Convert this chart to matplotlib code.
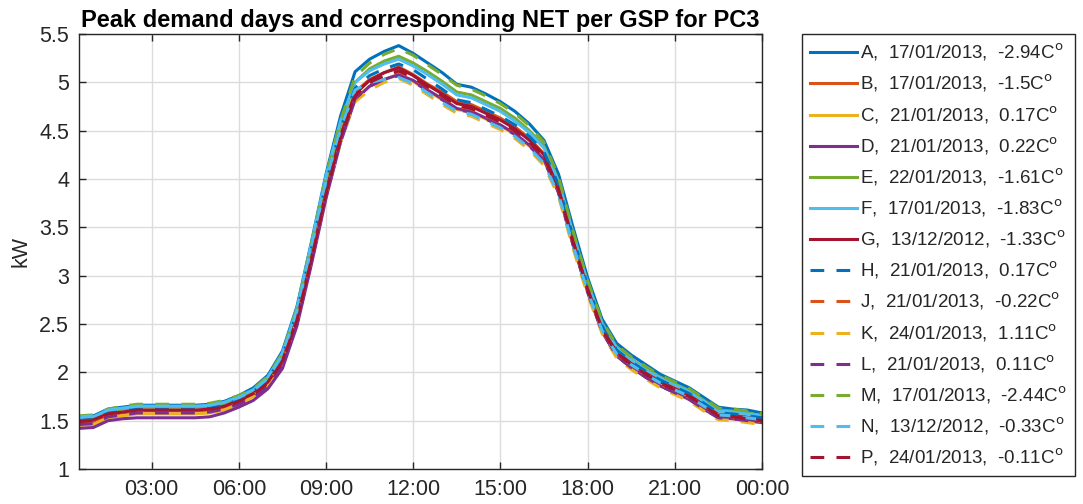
import matplotlib.pyplot as plt
import numpy as np

plt.rcParams['font.family'] = ['Liberation Sans', 'DejaVu Sans']

# half-hourly readings, 00:30 .. 24:00
hours = np.arange(1, 49) * 0.5

labels = ['A', 'B', 'C', 'D', 'E', 'F', 'G', 'H', 'J', 'K', 'L', 'M', 'N', 'P']
dates = ['17/01/2013', '17/01/2013', '21/01/2013', '21/01/2013', '22/01/2013',
         '17/01/2013', '13/12/2012', '21/01/2013', '21/01/2013', '24/01/2013',
         '21/01/2013', '17/01/2013', '13/12/2012', '24/01/2013']
temps = ['-2.94', '-1.5', '0.17', '0.22', '-1.61', '-1.83', '-1.33',
         '0.17', '-0.22', '1.11', '0.11', '-2.44', '-0.33', '-0.11']

A = [1.54, 1.55, 1.62, 1.64, 1.66, 1.66, 1.66, 1.66, 1.66, 1.67, 1.70, 1.76, 1.84, 1.97, 2.22, 2.68,
     3.35, 4.05, 4.65, 5.11, 5.24, 5.32, 5.38, 5.30, 5.20, 5.10, 4.98, 4.95, 4.88, 4.80, 4.70, 4.57,
     4.40, 4.05, 3.50, 2.98, 2.55, 2.30, 2.18, 2.08, 1.98, 1.91, 1.84, 1.74, 1.64, 1.62, 1.61, 1.58]
B = [1.48, 1.49, 1.56, 1.58, 1.60, 1.60, 1.60, 1.60, 1.60, 1.61, 1.64, 1.70, 1.78, 1.91, 2.14, 2.58,
     3.22, 3.90, 4.46, 4.90, 5.03, 5.10, 5.16, 5.08, 4.98, 4.90, 4.80, 4.77, 4.70, 4.63, 4.54, 4.42,
     4.26, 3.92, 3.38, 2.88, 2.46, 2.22, 2.10, 2.00, 1.91, 1.84, 1.77, 1.67, 1.57, 1.56, 1.54, 1.52]
C = [1.45, 1.46, 1.53, 1.55, 1.57, 1.57, 1.57, 1.57, 1.57, 1.58, 1.61, 1.67, 1.75, 1.87, 2.09, 2.52,
     3.15, 3.83, 4.40, 4.83, 4.96, 5.03, 5.08, 5.01, 4.91, 4.82, 4.72, 4.69, 4.62, 4.55, 4.46, 4.34,
     4.19, 3.86, 3.32, 2.83, 2.42, 2.17, 2.05, 1.95, 1.86, 1.79, 1.72, 1.62, 1.53, 1.52, 1.50, 1.48]
D = [1.42, 1.43, 1.50, 1.52, 1.53, 1.53, 1.53, 1.53, 1.53, 1.54, 1.58, 1.64, 1.71, 1.83, 2.04, 2.48,
     3.12, 3.80, 4.38, 4.82, 4.96, 5.03, 5.08, 5.02, 4.92, 4.83, 4.73, 4.70, 4.63, 4.56, 4.47, 4.35,
     4.20, 3.86, 3.32, 2.84, 2.42, 2.17, 2.05, 1.95, 1.86, 1.79, 1.72, 1.62, 1.53, 1.52, 1.50, 1.48]
E = [1.52, 1.53, 1.60, 1.62, 1.64, 1.64, 1.64, 1.64, 1.64, 1.65, 1.68, 1.74, 1.81, 1.94, 2.18, 2.63,
     3.30, 3.98, 4.56, 5.00, 5.14, 5.22, 5.27, 5.20, 5.11, 5.01, 4.90, 4.87, 4.80, 4.73, 4.63, 4.50,
     4.34, 3.98, 3.44, 2.93, 2.51, 2.26, 2.14, 2.04, 1.95, 1.88, 1.81, 1.71, 1.61, 1.60, 1.58, 1.55]
F = [1.53, 1.54, 1.61, 1.63, 1.65, 1.65, 1.65, 1.65, 1.65, 1.66, 1.69, 1.75, 1.82, 1.95, 2.20, 2.66,
     3.34, 4.03, 4.60, 5.00, 5.12, 5.19, 5.24, 5.17, 5.08, 4.98, 4.87, 4.84, 4.77, 4.70, 4.60, 4.48,
     4.32, 3.97, 3.43, 2.92, 2.50, 2.25, 2.13, 2.03, 1.94, 1.87, 1.80, 1.70, 1.60, 1.59, 1.57, 1.55]
G = [1.50, 1.51, 1.57, 1.59, 1.61, 1.61, 1.61, 1.61, 1.61, 1.62, 1.65, 1.71, 1.78, 1.90, 2.12, 2.55,
     3.18, 3.86, 4.44, 4.88, 5.02, 5.10, 5.15, 5.07, 4.97, 4.88, 4.78, 4.75, 4.68, 4.61, 4.52, 4.40,
     4.25, 3.90, 3.36, 2.86, 2.45, 2.21, 2.09, 1.99, 1.90, 1.83, 1.76, 1.66, 1.56, 1.55, 1.53, 1.51]
H = [1.50, 1.51, 1.58, 1.60, 1.62, 1.62, 1.62, 1.62, 1.62, 1.63, 1.66, 1.72, 1.80, 1.93, 2.17, 2.62,
     3.28, 3.96, 4.52, 4.94, 5.07, 5.14, 5.19, 5.13, 5.03, 4.93, 4.82, 4.79, 4.72, 4.65, 4.56, 4.44,
     4.28, 3.94, 3.40, 2.90, 2.48, 2.23, 2.11, 2.01, 1.92, 1.85, 1.78, 1.68, 1.58, 1.57, 1.55, 1.53]
J = [1.47, 1.48, 1.55, 1.57, 1.59, 1.59, 1.59, 1.59, 1.59, 1.60, 1.63, 1.69, 1.76, 1.88, 2.10, 2.53,
     3.16, 3.84, 4.41, 4.85, 4.98, 5.06, 5.11, 5.04, 4.94, 4.85, 4.75, 4.72, 4.65, 4.58, 4.49, 4.37,
     4.22, 3.88, 3.34, 2.85, 2.43, 2.19, 2.07, 1.97, 1.88, 1.81, 1.74, 1.64, 1.55, 1.53, 1.51, 1.49]
K = [1.47, 1.48, 1.54, 1.56, 1.58, 1.58, 1.58, 1.58, 1.58, 1.59, 1.62, 1.68, 1.76, 1.88, 2.10, 2.54,
     3.17, 3.84, 4.38, 4.80, 4.92, 5.00, 5.04, 4.97, 4.87, 4.77, 4.68, 4.65, 4.58, 4.51, 4.42, 4.30,
     4.14, 3.82, 3.28, 2.80, 2.40, 2.15, 2.03, 1.93, 1.84, 1.77, 1.70, 1.60, 1.51, 1.50, 1.48, 1.46]
L = [1.46, 1.47, 1.54, 1.56, 1.58, 1.58, 1.58, 1.58, 1.58, 1.59, 1.62, 1.67, 1.74, 1.86, 2.07, 2.50,
     3.14, 3.82, 4.39, 4.83, 4.96, 5.03, 5.07, 5.01, 4.91, 4.82, 4.72, 4.69, 4.62, 4.55, 4.46, 4.34,
     4.19, 3.86, 3.32, 2.83, 2.42, 2.17, 2.05, 1.95, 1.86, 1.79, 1.72, 1.62, 1.53, 1.52, 1.50, 1.48]
M = [1.55, 1.56, 1.62, 1.65, 1.67, 1.67, 1.67, 1.67, 1.67, 1.68, 1.71, 1.76, 1.83, 1.96, 2.20, 2.66,
     3.33, 4.02, 4.60, 5.06, 5.20, 5.29, 5.35, 5.28, 5.18, 5.08, 4.97, 4.93, 4.86, 4.78, 4.68, 4.55,
     4.38, 4.02, 3.46, 2.95, 2.53, 2.28, 2.16, 2.06, 1.97, 1.90, 1.83, 1.73, 1.63, 1.62, 1.60, 1.57]
N = [1.54, 1.55, 1.61, 1.63, 1.65, 1.65, 1.65, 1.65, 1.65, 1.66, 1.69, 1.74, 1.81, 1.94, 2.18, 2.64,
     3.30, 3.98, 4.52, 4.92, 5.00, 5.03, 5.05, 4.99, 4.89, 4.79, 4.70, 4.67, 4.60, 4.53, 4.44, 4.32,
     4.16, 3.84, 3.31, 2.84, 2.43, 2.19, 2.08, 1.98, 1.89, 1.82, 1.75, 1.65, 1.56, 1.55, 1.53, 1.51]
P = [1.49, 1.50, 1.57, 1.59, 1.61, 1.61, 1.61, 1.61, 1.61, 1.62, 1.64, 1.70, 1.77, 1.89, 2.11, 2.54,
     3.17, 3.85, 4.42, 4.86, 5.00, 5.07, 5.12, 5.05, 4.95, 4.86, 4.76, 4.73, 4.66, 4.59, 4.50, 4.38,
     4.23, 3.89, 3.35, 2.86, 2.44, 2.20, 2.08, 1.98, 1.89, 1.82, 1.75, 1.65, 1.55, 1.54, 1.52, 1.50]

series = [A, B, C, D, E, F, G, H, J, K, L, M, N, P]

xticks = [3, 6, 9, 12, 15, 18, 21, 24]
xticklabels = ['03:00', '06:00', '09:00', '12:00', '15:00', '18:00', '21:00', '00:00']
yticks = [1, 1.5, 2, 2.5, 3, 3.5, 4, 4.5, 5, 5.5]

# MATLAB default colour order
colors = ['#0072BD', '#D95319', '#EDB120', '#7E2F8E', '#77AC30', '#4DBEEE', '#A2142F']

fig = plt.figure(figsize=(10.83, 5.04), dpi=100)
ax = fig.add_axes([0.0729, 0.0694, 0.6307, 0.8631])

handles = []
for i, (vals, lab, d, t) in enumerate(zip(series, labels, dates, temps)):
    col = colors[i % 7]
    if i < 7:
        ls = '-'
    else:
        ls = (0, (4.5, 4.0))
    h, = ax.plot(hours, vals, color=col, linestyle=ls, linewidth=2.2,
                 label=f'{lab},  {d},  {t}C$^{{\\mathrm{{o}}}}$')
    handles.append(h)

ax.set_xlim(0.5, 24)
ax.set_ylim(1, 5.5)
ax.set_xticks(xticks)
ax.set_xticklabels(xticklabels)
ax.set_yticks(yticks)
ax.set_yticklabels(['1', '1.5', '2', '2.5', '3', '3.5', '4', '4.5', '5', '5.5'])
ax.grid(True, color='#dcdcdc', linewidth=1.0)
ax.set_axisbelow(True)
ax.tick_params(direction='in', length=5, top=True, right=True, labelsize=15.5,
               colors='#262626', width=1.0, pad=7)
for s in ax.spines.values():
    s.set_color('#262626')
    s.set_linewidth(1.0)
ax.set_ylabel('kW', fontsize=15.5, color='#262626', labelpad=6)
ax.set_title('Peak demand days and corresponding NET per GSP for PC3',
             fontsize=17, fontweight='bold', pad=5)

leg = fig.legend(handles=handles, loc='upper left',
                 bbox_to_anchor=(0.7405, 0.9325), borderaxespad=0,
                 fontsize=13.5, labelspacing=0.52, handlelength=2.5,
                 handletextpad=0.2, borderpad=0.42, fancybox=False,
                 edgecolor='#262626', framealpha=1)
leg.get_frame().set_linewidth(1.0)
for txt in leg.get_texts():
    txt.set_color('#262626')

fig.savefig('out.png', dpi=100)
